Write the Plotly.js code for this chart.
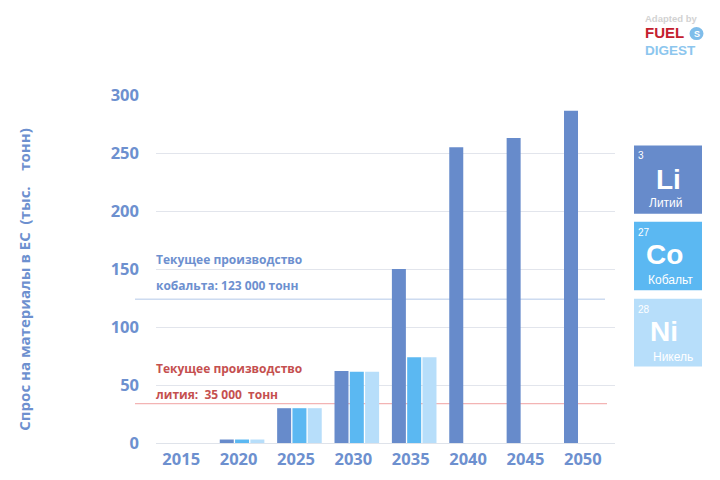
<!DOCTYPE html>
<html><head><meta charset="utf-8">
<script src="https://cdn.plot.ly/plotly-3.0.1.min.js"></script>
<style>html,body{margin:0;padding:0;background:#fff}#c{width:720px;height:480px}</style>
</head><body><div id="c"></div>
<script>
const years = [2015,2020,2025,2030,2035,2040,2045,2050];
const tickLabels = ['2015','2020','2025','2030','2035','2040','2045','2050'];
const lithium = [0,3,30,62,150,255,263,286.5];
const cobalt = [0,3,30,61.5,74,0,0,0];
const nickel = [0,3,30,61.5,74,0,0,0];
const yTicks = [0,50,100,150,200,250,300];
const cobaltOutput = 124;
const lithiumOutput = 34;
const cLi='#678bcb', cCo='#5bb8f2', cNi='#b7defa', cTxt='#6d90cf', cRed='#c5504f';

const L=156,R=615,T=95,B=443.5, W=R-L, H=B-T;
const px=x=>(x-L)/W, py=y=>(B-y)/H;
const FONT='"Open Sans", "Noto Sans", sans-serif', ARIAL='"Liberation Sans", Arial, sans-serif';

const bar=(name,y,color)=>({type:'bar',name,x:years,y,marker:{color,line:{width:0}},hoverinfo:'x+y'});
const traces=[bar('Li',lithium,cLi),bar('Co',cobalt,cCo),bar('Ni',nickel,cNi)];

const note=(text,x,y,color,size,font,weight,anchor)=>({text,xref:'paper',yref:'paper',x:px(x),y:py(y),xanchor:anchor||'left',yanchor:'middle',showarrow:false,
  font:{family:font||FONT,size:size,color:color,weight:weight===undefined?700:weight},borderpad:0,borderwidth:0});

const tiles=[
 {top:145.5,h:68.5,c:cLi,n:'3',s:'Li',t:'Литий',sx:668.5,tx:665.5,sy:34,ty:58},
 {top:222,h:68.5,c:cCo,n:'27',s:'Co',t:'Кобальт',sx:664,tx:670.5,sy:33,ty:58},
 {top:299,h:68,c:cNi,n:'28',s:'Ni',t:'Никель',sx:663.5,tx:673,sy:33,ty:58}
];
const shapes=[
 {type:'line',xref:'paper',yref:'y',x0:px(135),x1:px(605),y0:cobaltOutput,y1:cobaltOutput,line:{color:'#b4c8e8',width:1},layer:'between'},
 {type:'line',xref:'paper',yref:'y',x0:px(135),x1:px(607),y0:lithiumOutput,y1:lithiumOutput,line:{color:'#f3b4b4',width:1.3},layer:'between'},
 {type:'circle',xref:'paper',yref:'paper',x0:px(689.5),x1:px(703.5),y0:py(40),y1:py(27),fillcolor:'#7fbdea',line:{width:0}}
];
const annotations=[
 note('Спрос на материалы в ЕС  (тыс.    тонн)',24,280,cTxt,15,FONT,700,'center'),
 note('Текущее производство',156,260,cTxt,12),
 note('кобальта: 123 000 тонн',156,286,cTxt,12),
 note('Текущее производство',156,369,cRed,12),
 note('лития:  35 000  тонн',156,395,cRed,12),
 note('Adapted by',645,18,'#d2d2d2',9.5,ARIAL),
 note('FUEL',645,32.5,'#c4202e',15,ARIAL),
 note('S',696.5,33.5,'#ffffff',9,ARIAL,700,'center'),
 note('DIGEST',645,50,'#8cc6ee',13.5,ARIAL)
];
annotations[0].textangle=-90;
tiles.forEach(t=>{
 shapes.push({type:'rect',xref:'paper',yref:'paper',x0:px(634),x1:px(702),y0:py(t.top+t.h),y1:py(t.top),fillcolor:t.c,line:{width:0},layer:'below'});
 annotations.push(note(t.n,637.5,t.top+10.5,'#ffffff',10,ARIAL,400));
 annotations.push(note(t.s,t.sx,t.top+t.sy,'#ffffff',28,ARIAL,700,'center'));
 annotations.push(note(t.t,t.tx,t.top+t.ty,'#ffffff',12,ARIAL,400,'center'));
});

const layout={
 width:720,height:480,paper_bgcolor:'#fff',plot_bgcolor:'#fff',showlegend:false,
 margin:{l:L,r:720-R,t:T,b:480-B,pad:0},
 barmode:'group',bargap:0.2,bargroupgap:0.085,
 font:{family:FONT,color:cTxt},
 xaxis:{type:'linear',range:[2012.5,2052.5],tickmode:'array',tickvals:years.map(y=>y-0.3),ticktext:tickLabels,
  tickfont:{family:FONT,size:16.5,color:cTxt,weight:700},showgrid:false,
  showline:true,linecolor:'#dfe3ea',linewidth:1,ticks:'',ticklen:0,zeroline:false,automargin:false,ticklabelstandoff:1},
 yaxis:{range:[0,300],tickvals:yTicks,ticktext:yTicks.map(String),tickfont:{family:FONT,size:16.5,color:cTxt,weight:700},
  gridcolor:'#e2e5ec',gridwidth:1,zeroline:false,showline:false,ticks:'',ticklabelstandoff:16,automargin:false},
 shapes,annotations
};
Plotly.newPlot('c',traces,layout,{displayModeBar:false,staticPlot:true});
</script></body></html>
